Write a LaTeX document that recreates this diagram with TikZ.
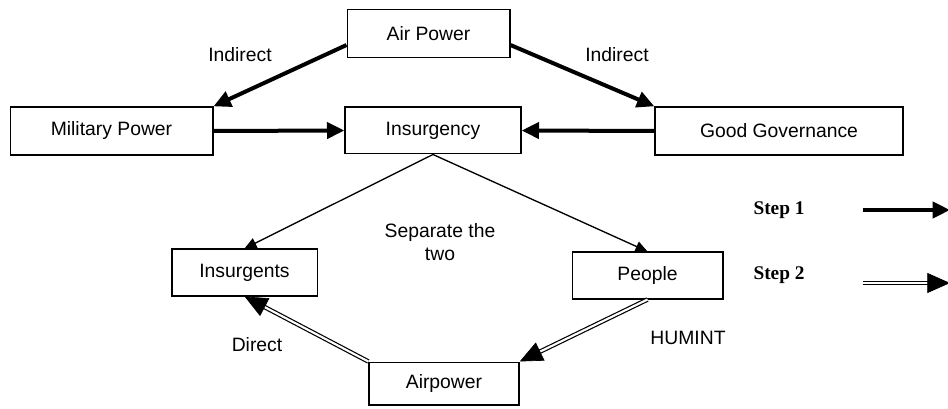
\documentclass[tikz,border=0pt]{standalone}
\usepackage{fontspec}
\setmainfont{Liberation Sans}
\newfontfamily\stepfont{Liberation Serif}
\usetikzlibrary{positioning, arrows.meta, decorations.markings}

\begin{document}
\begin{tikzpicture}[%
  x = .75pt, y = -.75pt,
  font = \fontsize{14.5}{17}\selectfont,
  box/.style =     {rectangle, draw, line width=1pt, align=center,
                    inner sep=0pt},
  note/.style =    {align=center, inner sep=1pt},
  steplabel/.style = {font=\stepfont\bfseries\fontsize{14.5}{17}\selectfont},
  indirect/.style = {-{Triangle[length=13pt, width=12pt]}, line width=3pt},
  split/.style =   {-{Triangle[length=9pt, width=8pt]}, line width=1pt},
  direct/.style =  {double, double distance=1.6pt, line width=.9pt,
                    shorten >=12pt,
                    postaction={decorate, decoration={markings,
                      mark=at position 1 with
                        {\arrow[line width=.5pt]{Triangle[length=17pt, width=15pt]}}}}}
]
  \useasboundingbox (0,0) rectangle (948,409);

  % boxes
  \node[box, minimum width=122pt, minimum height=36pt]   (air)  at (428.5,33.5) {Air Power};
  \node[box, minimum width=152pt, minimum height=36pt]   (mil)  at (111.5,131)  {Military Power};
  \node[box, minimum width=132pt, minimum height=35pt]   (ins)  at (433,130.5)  {Insurgency};
  \node[box, minimum width=186pt, minimum height=36pt]   (gov)  at (779,131)    {Good Governance};
  \node[box, minimum width=109pt, minimum height=35pt]   (insg) at (244.5,272.5) {Insurgents};
  \node[box, minimum width=113pt, minimum height=35pt]   (ppl)  at (647.5,275.5) {People};
  \node[box, minimum width=112.5pt, minimum height=32pt] (airp) at (444,383.5)  {Airpower};

  % step 1
  \draw[indirect] (air.188) -- (mil.north east);
  \draw[indirect] (air.352) -- (gov.north west);
  \draw[indirect] (mil.east) -- (ins.west);
  \draw[indirect] (gov.west) -- (ins.east);

  \draw[split] (ins.south) -- (insg.north);
  \draw[split] (ins.south) -- (ppl.north);

  % step 2
  \draw[direct] (airp.north west) -- (insg.south);
  \draw[direct] (ppl.south) -- (airp.north east);

  % labels
  \node[note] (ind1) at (240,55)  {Indirect};
  \node[note] (ind2) at (617,55)  {Indirect};
  \node[note] (sep)  at (440,242) {Separate the\\two};
  \node[note] (dir)  at (257,345) {Direct};
  \node[note] (hum)  at (688,338) {HUMINT};

  % legend
  \node[steplabel] (s1) at (779,210) {Step 1};
  \node[steplabel] (s2) at (779,275) {Step 2};
  \coordinate[right=40pt of s1] (s1a);
  \coordinate (s1b) at (950,210);
  \coordinate (s2a) at (s1a |- 0,283);
  \coordinate (s2b) at (950,283);
  \draw[indirect] (s1a) -- (s1b);
  \draw[direct] (s2a) -- (s2b);
\end{tikzpicture}
\end{document}
